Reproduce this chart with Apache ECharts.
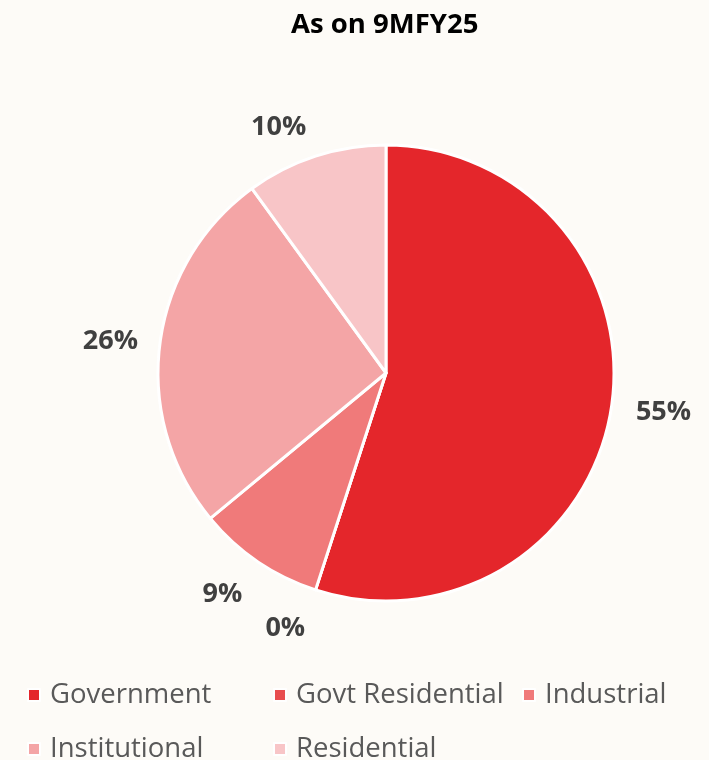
<!DOCTYPE html>
<html>
<head>
<meta charset="utf-8">
<script src="https://cdn.jsdelivr.net/npm/echarts@6/dist/echarts.min.js"></script>
<style>
html,body{margin:0;padding:0;background:#fdfbf7;}
#c{width:709px;height:760px;}
</style>
</head>
<body>
<div id="c"></div>
<script>
const categories = ['Government', 'Govt Residential', 'Industrial', 'Institutional', 'Residential'];
const values = [55, 0, 9, 26, 10];
const colors = ['#e4262b', '#e84d4f', '#f07a7a', '#f4a5a6', '#f8c5c7'];
const titleText = 'As on 9MFY25';

const FONT = 'Open Sans';
const labelLen = [25, 40, 40, 22, 30];
const labelGap = [0, -2, -7, 0, 0];
const chart = echarts.init(document.getElementById('c'));
const legendPos = [[27, 681], [273, 681], [522, 681], [27, 735], [273, 735]];
const legends = categories.map((n, i) => ({
  left: legendPos[i][0], top: legendPos[i][1], padding: 0,
  itemWidth: 12, itemHeight: 12, icon: 'rect',
  textStyle: {color: '#595959', fontSize: 27.5, fontFamily: FONT, padding: [0, 0, 0, 5]},
  data: [n]
}));
chart.setOption({
  backgroundColor: '#fdfbf7',
  animation: false,
  title: {
    text: titleText, left: 286, top: 6,
    textStyle: {fontSize: 27.5, fontWeight: 'bold', color: '#000', fontFamily: FONT}
  },
  legend: legends,
  series: [{
    type: 'pie',
    center: [386, 373],
    radius: 228,
    startAngle: 90,
    clockwise: true,
    avoidLabelOverlap: true,
    itemStyle: {borderColor: '#ffffff', borderWidth: 3},
    label: {
      show: true, position: 'outside', overflow: 'none',
      formatter: '{c}%',
      fontSize: 27, fontWeight: 'bold', color: '#404040', fontFamily: FONT
    },
    labelLine: {show: false, length: 35, length2: 0},
    emphasis: {disabled: true},
    data: categories.map((n, i) => ({
      name: n, value: values[i], itemStyle: {color: colors[i]},
      label: {distanceToLabelLine: labelGap[i]},
      labelLine: {length: labelLen[i], length2: 0}
    }))
  }]
});
</script>
</body>
</html>
